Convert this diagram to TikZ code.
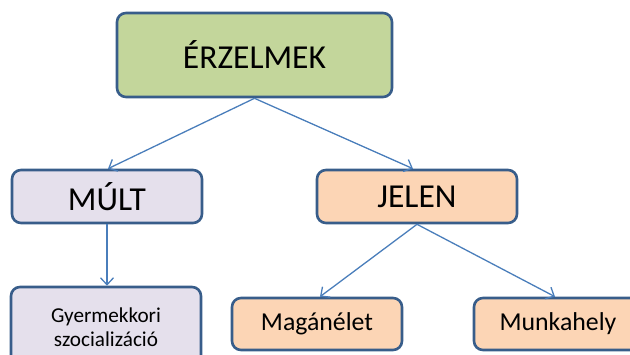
\documentclass[tikz,border=0pt]{standalone}
\usepackage{fontspec}
\setmainfont{Carlito}
\usetikzlibrary{arrows.meta}
\definecolor{bordc}{RGB}{56,93,138}
\definecolor{arrc}{RGB}{74,126,187}
\definecolor{greenf}{RGB}{195,214,155}
\definecolor{lavf}{RGB}{229,224,236}
\definecolor{peachf}{RGB}{252,213,181}
\tikzset{
  boxst/.style={draw=bordc, line width=2.6pt, rounded corners=9pt, inner sep=0pt, align=center, text=black},
  conn/.style={draw=arrc, line width=1.3pt, -{Straight Barb[length=7pt,width=13pt,line width=1.3pt]}}
}
\begin{document}
\begin{tikzpicture}[x=1pt,y=-1pt]
\useasboundingbox (0,0) rectangle (630,354);
\clip (0,0) rectangle (630,354);
\node[boxst, fill=greenf, minimum width=275pt, minimum height=84pt, font=\fontsize{33.5}{36}\selectfont] (erz) at (254.5,55) {ÉRZELMEK};
\node[boxst, fill=lavf, minimum width=190pt, minimum height=53pt, font=\fontsize{33.5}{36}\selectfont] (mult) at (107,196.5) {MÚLT};
\node[boxst, fill=peachf, minimum width=200pt, minimum height=53pt, font=\fontsize{33.5}{36}\selectfont] (jelen) at (417,196.5) {JELEN};
\node[boxst, fill=lavf, minimum width=190pt, minimum height=80pt, font=\fontsize{21.2}{24}\selectfont] (gyer) at (106,327) {Gyermekkori\\szocializáció};
\node[boxst, fill=peachf, minimum width=170pt, minimum height=52pt, font=\fontsize{25.8}{28}\selectfont] (mag) at (317,324) {Magánélet};
\node[boxst, fill=peachf, minimum width=168pt, minimum height=52pt, font=\fontsize{25.8}{28}\selectfont] (munk) at (558,324) {Munkahely};
\draw[conn] (erz.south) -- ([xshift=1pt]mult.north);
\draw[conn] (erz.south) -- ([xshift=-4pt]jelen.north);
\draw[conn] (mult.south) -- (gyer.north -| mult.south);
\draw[conn] (jelen.south) -- ([xshift=3pt]mag.north);
\draw[conn] (jelen.south) -- ([xshift=-3pt]munk.north);
\end{tikzpicture}
\end{document}
